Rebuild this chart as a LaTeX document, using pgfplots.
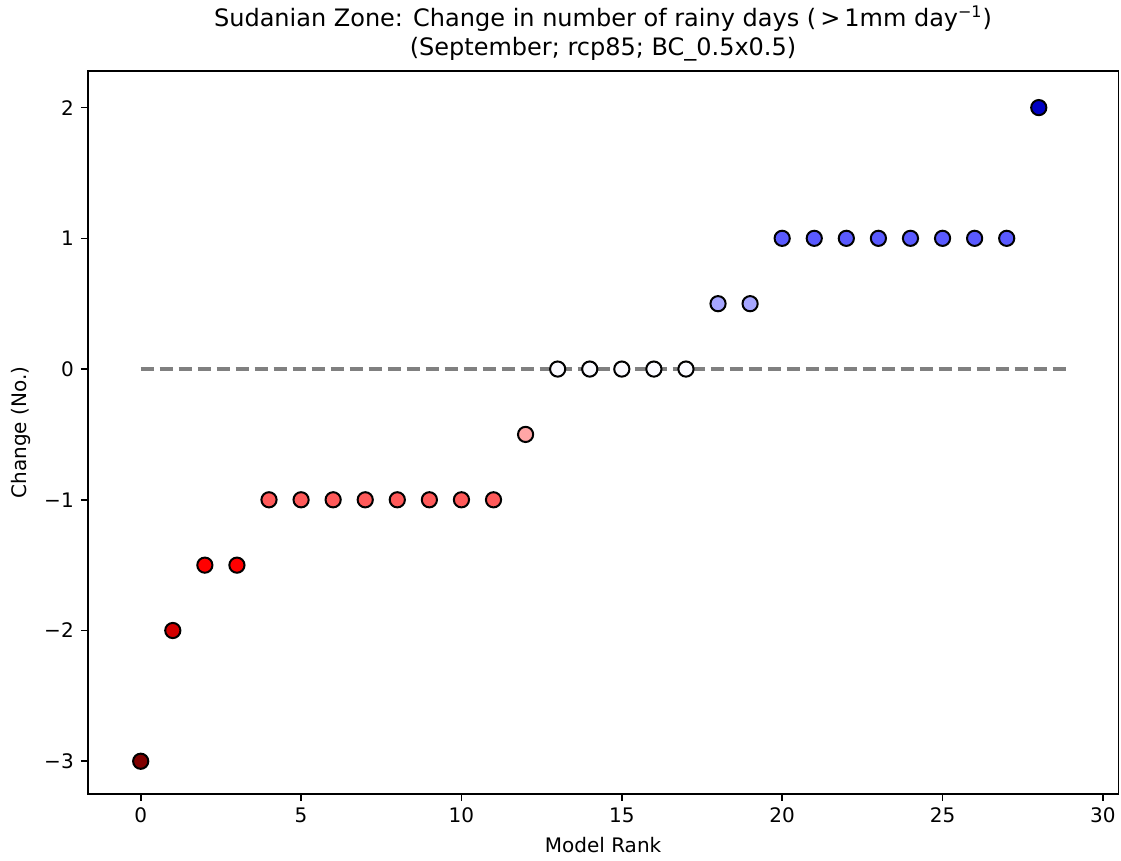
\documentclass[border=0pt]{standalone}
\usepackage{fontspec}
\setmainfont{DejaVu Sans}
\usepackage{pgfplots}
\pgfplotsset{compat=1.18}
\definecolor{c3n}{rgb}{0.5,0,0}
\definecolor{c2n}{rgb}{0.833,0,0}
\definecolor{c15n}{rgb}{1,0,0}
\definecolor{c1n}{rgb}{1,0.353,0.353}
\definecolor{c05n}{rgb}{1,0.65,0.65}
\definecolor{c0}{rgb}{0.98,0.98,1}
\definecolor{c05p}{rgb}{0.65,0.65,1}
\definecolor{c1p}{rgb}{0.353,0.353,1}
\definecolor{c2p}{rgb}{0,0,0.767}
\pgfplotsset{dot/.style={only marks, mark=*, mark size=3.8pt, mark options={draw=black, line width=1pt, fill=#1}}}
\begin{document}
\begin{tikzpicture}
\begin{axis}[
  scale only axis,
  width=515.3pt, height=361.5pt,
  xmin=-1.65, xmax=30.48,
  ymin=-3.25, ymax=2.28,
  axis line style={line width=0.8pt},
  tick align=outside, tick pos=left,
  major tick length=3.5pt,
  tick style={line width=0.8pt, black},
  xtick={0,5,10,15,20,25,30},
  ytick={-3,-2,-1,0,1,2},
  yticklabels={−3,−2,−1,0,1,2},
  /pgf/number format/assume math mode=true,
  tick label style={font=\fontsize{10}{12}\selectfont},
  label style={font=\fontsize{10}{12}\selectfont},
  xlabel={Model Rank},
  ylabel={Change (No.)},
  title={Sudanian Zone: Change in number of rainy days (\,>\,1mm day\textsuperscript{−1})\\(September; rcp85; BC\_0.5x0.5)},
  title style={font=\fontsize{12}{14.5}\selectfont, align=center, yshift=-4.5pt},
  clip=false,
]
\addplot[color={rgb,1:red,0.5;green,0.5;blue,0.5}, line width=1.6pt, dash pattern=on 6.5pt off 3pt, no marks] coordinates {(0,0) (28.88,0)};
\addplot[dot=c3n] coordinates {(0,-3)};
\addplot[dot=c2n] coordinates {(1,-2)};
\addplot[dot=c15n] coordinates {(2,-1.5) (3,-1.5)};
\addplot[dot=c1n] coordinates {(4,-1) (5,-1) (6,-1) (7,-1) (8,-1) (9,-1) (10,-1) (11,-1)};
\addplot[dot=c05n] coordinates {(12,-0.5)};
\addplot[dot=c0] coordinates {(13,0) (14,0) (15,0) (16,0) (17,0)};
\addplot[dot=c05p] coordinates {(18,0.5) (19,0.5)};
\addplot[dot=c1p] coordinates {(20,1) (21,1) (22,1) (23,1) (24,1) (25,1) (26,1) (27,1)};
\addplot[dot=c2p] coordinates {(28,2)};
\end{axis}
\pgfresetboundingbox
\path[use as bounding box] ([xshift=-43.9pt,yshift=-33.5pt]current axis.south west) rectangle ([xshift=1.35pt,yshift=35.5pt]current axis.north east);
\end{tikzpicture}
\end{document}
